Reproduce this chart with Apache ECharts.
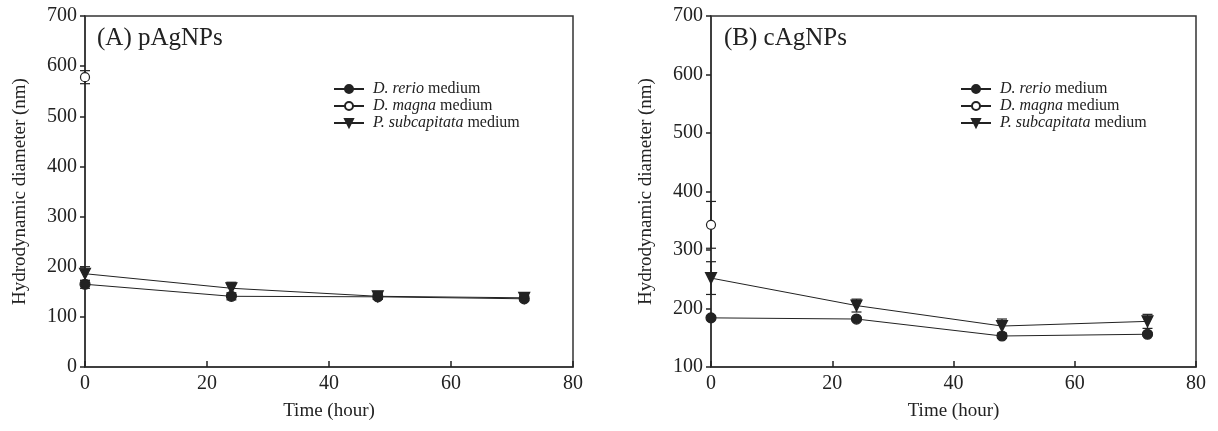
<!DOCTYPE html>
<html lang="en">

<head>
    <meta charset="UTF-8">
    <title>Hydrodynamic diameter</title>
</head>

<body style="margin:0;background:#fff">
    <div id="main" style="width: 1218px; height:431px"></div>
    <script src="https://cdn.jsdelivr.net/npm/echarts@6/dist/echarts.min.js"></script>
    <script type="text/javascript">
        var myChart = echarts.init(document.getElementById('main'));

        // time points (hour)
        var times = [0, 24, 48, 72];
        var names = ['D. rerio medium', 'D. magna medium', 'P. subcapitata medium'];

        // (A) pAgNPs
        var rerioA = [165, 141, 140, 136];
        var rerioA_sd = [8, 7, 5, 4];
        var magnaA = [578];
        var magnaA_sd = [13];
        var subcapA = [186, 157, 141, 138];
        var subcapA_sd = [14, 12, 6, 5];

        // (B) cAgNPs
        var rerioB = [184, 182, 153, 156];
        var rerioB_sd = [3, 3, 4, 3];
        var magnaB = [343];
        var magnaB_sd = [40];
        var subcapB = [252, 205, 170, 178];
        var subcapB_sd = [28, 11, 12, 12];

        var font = 'Liberation Serif, Times New Roman, serif';
        var ink = '#222';
        var axisCol = '#333';
        var downTri = 'path://M0,0 L10,0 L5,9 Z';

        function pts(vals) {
            return vals.map(function (v, i) { return [times[i], v]; });
        }
        function errs(vals, sd) {
            return vals.map(function (v, i) { return [times[i], v - sd[i], v + sd[i]]; });
        }

        function lineSeries(name, vals, idx, symbol, size, fill) {
            return {
                name: name,
                type: 'line',
                xAxisIndex: idx,
                yAxisIndex: idx,
                data: pts(vals),
                symbol: symbol,
                symbolSize: size,
                showAllSymbol: true,
                z: 3,
                lineStyle: { color: ink, width: 1 },
                itemStyle: { color: fill, borderColor: ink, borderWidth: 1.2 }
            };
        }

        // vertical error bars with caps
        function errSeries(vals, sd, idx) {
            return {
                type: 'custom',
                xAxisIndex: idx,
                yAxisIndex: idx,
                data: errs(vals, sd),
                z: 2,
                silent: true,
                renderItem: function (params, api) {
                    var x = api.value(0);
                    var lo = api.coord([x, api.value(1)]);
                    var hi = api.coord([x, api.value(2)]);
                    var w = 5;
                    var st = { stroke: ink, lineWidth: 1.2 };
                    return {
                        type: 'group',
                        children: [
                            { type: 'line', shape: { x1: lo[0], y1: lo[1], x2: hi[0], y2: hi[1] }, style: st },
                            { type: 'line', shape: { x1: lo[0] - w, y1: lo[1], x2: lo[0] + w, y2: lo[1] }, style: st },
                            { type: 'line', shape: { x1: hi[0] - w, y1: hi[1], x2: hi[0] + w, y2: hi[1] }, style: st }
                        ]
                    };
                }
            };
        }

        function xAxis(idx) {
            return {
                type: 'value',
                gridIndex: idx,
                min: 0,
                max: 80,
                interval: 20,
                name: 'Time (hour)',
                nameLocation: 'middle',
                nameGap: 35,
                nameTextStyle: { fontFamily: font, fontSize: 19, color: ink },
                axisLine: { show: true, onZero: false, lineStyle: { color: axisCol, width: 1.5 } },
                axisTick: { show: true, inside: true, length: 6, lineStyle: { color: '#222', width: 1.5 } },
                axisLabel: { fontFamily: font, fontSize: 20, color: ink, margin: 7 },
                splitLine: { show: false }
            };
        }

        function yAxis(idx, min) {
            return {
                type: 'value',
                gridIndex: idx,
                min: min,
                max: 700,
                interval: 100,
                name: 'Hydrodynamic diameter (nm)',
                nameLocation: 'middle',
                nameGap: 55,
                nameTextStyle: { fontFamily: font, fontSize: 19, color: ink },
                axisLine: { show: true, onZero: false, lineStyle: { color: axisCol, width: 1.5 } },
                axisTick: { show: true, length: 5, lineStyle: { color: '#222', width: 1.5 } },
                axisLabel: { fontFamily: font, fontSize: 20, color: ink, margin: 8 },
                splitLine: { show: false }
            };
        }

        function legend(left) {
            return {
                left: left,
                top: 81,
                orient: 'vertical',
                itemWidth: 30,
                itemHeight: 10,
                itemGap: 1,
                padding: 0,
                data: names,
                textStyle: {
                    fontFamily: font, fontSize: 16, color: ink, lineHeight: 15, padding: [0, 0, 0, 4],
                    rich: { i: { fontFamily: font, fontSize: 16, fontStyle: 'italic', color: ink, lineHeight: 15 } }
                },
                formatter: function (n) {
                    var k = n.lastIndexOf(' ');
                    return '{i|' + n.slice(0, k) + '}' + n.slice(k);
                }
            };
        }

        var option = {
            animation: false,
            backgroundColor: '#fff',
            title: [
                { text: '(A) pAgNPs', left: 97, top: 26, padding: 0, textStyle: { fontFamily: font, fontSize: 25, fontWeight: 'normal', color: ink } },
                { text: '(B) cAgNPs', left: 724, top: 26, padding: 0, textStyle: { fontFamily: font, fontSize: 25, fontWeight: 'normal', color: ink } }
            ],
            legend: [legend(333), legend(960)],
            grid: [
                { left: 85, right: 645, top: 16, bottom: 64, show: true, borderColor: axisCol, borderWidth: 1.5 },
                { left: 711, right: 22, top: 16, bottom: 64, show: true, borderColor: axisCol, borderWidth: 1.5 }
            ],
            xAxis: [xAxis(0), xAxis(1)],
            yAxis: [yAxis(0, 0), yAxis(1, 100)],
            series: [
                errSeries(rerioA, rerioA_sd, 0),
                errSeries(magnaA, magnaA_sd, 0),
                errSeries(subcapA, subcapA_sd, 0),
                lineSeries(names[0], rerioA, 0, 'circle', 10, ink),
                lineSeries(names[1], magnaA, 0, 'circle', 9, '#fff'),
                lineSeries(names[2], subcapA, 0, downTri, 11, ink),
                errSeries(rerioB, rerioB_sd, 1),
                errSeries(magnaB, magnaB_sd, 1),
                errSeries(subcapB, subcapB_sd, 1),
                lineSeries(names[0], rerioB, 1, 'circle', 10, ink),
                lineSeries(names[1], magnaB, 1, 'circle', 9, '#fff'),
                lineSeries(names[2], subcapB, 1, downTri, 11, ink)
            ]
        };
        myChart.setOption(option);
    </script>

</body>

</html>
